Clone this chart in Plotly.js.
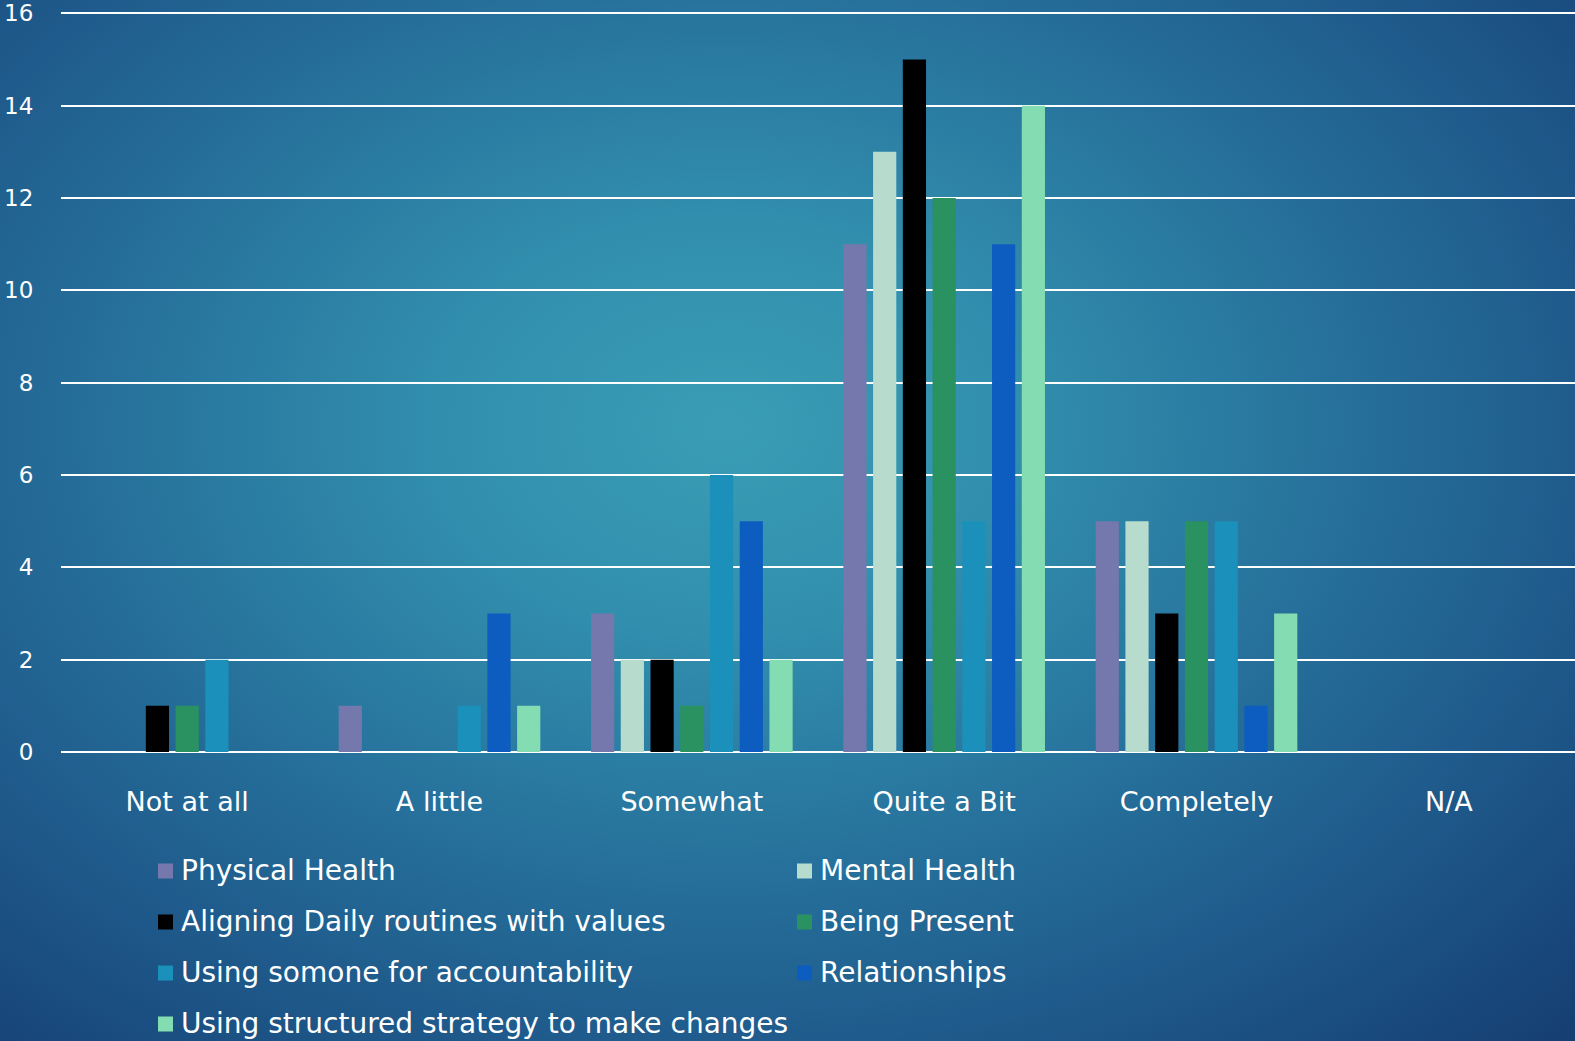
<!DOCTYPE html>
<html>
<head>
<meta charset="utf-8">
<script src="https://cdn.plot.ly/plotly-3.0.1.min.js"></script>
<style>
  html, body { margin: 0; padding: 0; width: 1575px; height: 1041px; overflow: hidden; }
  body {
    background: radial-gradient(ellipse 78% 85% at 46% 41%,
      #3a9db5 0%, #3290ae 22%, #27739d 48%, #1f5b8c 70%, #18467a 90%, #153d71 100%);
  }
  #chart { width: 1575px; height: 1041px; }
</style>
</head>
<body>
<div id="chart"></div>
<script>
// Survey response levels
const categories = ["Not at all", "A little", "Somewhat", "Quite a Bit", "Completely", "N/A"];

// Number of responses per level, one array per topic
const physicalHealth     = [0, 1, 3, 11, 5, 0];
const mentalHealth       = [0, 0, 2, 13, 5, 0];
const aligningRoutines   = [1, 0, 2, 15, 3, 0];
const beingPresent       = [1, 0, 1, 12, 5, 0];
const accountability     = [2, 1, 6, 5, 5, 0];
const relationships      = [0, 3, 5, 11, 1, 0];
const structuredStrategy = [0, 1, 2, 14, 3, 0];

const seriesNames = [
  "Physical Health",
  "Mental Health",
  "Aligning Daily routines with values",
  "Being Present",
  "Using somone for accountability",
  "Relationships",
  "Using structured strategy to make changes"
];
const seriesValues = [physicalHealth, mentalHealth, aligningRoutines, beingPresent,
                      accountability, relationships, structuredStrategy];
const seriesColors = ["#7478ac", "#b7dcce", "#000000", "#2a9260", "#1b90ba", "#0c5dbf", "#84ddb2"];

const FONT = "DejaVu Sans, Verdana, sans-serif";

const traces = seriesNames.map((name, i) => ({
  type: "bar",
  name: name,
  x: categories,
  y: seriesValues[i],
  marker: { color: seriesColors[i], line: { width: 0 } },
  hoverinfo: "x+y+name"
}));

// Page geometry (pixels)
const W = 1575, H = 1041;
const M = { l: 61, r: 0, t: 11, b: 289 };
const plotW = W - M.l - M.r;
const plotH = H - M.t - M.b;
const px2x = (px) => (px - M.l) / plotW;
const py2y = (py) => (H - M.b - py) / plotH;

// Two-column legend drawn below the axis
const legendCols = [158, 797];
const legendRow0 = 871, legendRowStep = 51, swatch = 15, textGap = 7;
const shapes = [];
const annotations = [];
seriesNames.forEach((name, i) => {
  const col = i % 2, row = Math.floor(i / 2);
  const x0 = legendCols[col];
  const cy = legendRow0 + row * legendRowStep;
  shapes.push({
    type: "rect", xref: "paper", yref: "paper",
    x0: px2x(x0), x1: px2x(x0 + swatch),
    y0: py2y(cy + swatch / 2), y1: py2y(cy - swatch / 2),
    fillcolor: seriesColors[i], line: { width: 0 }
  });
  annotations.push({
    xref: "paper", yref: "paper",
    x: px2x(x0 + swatch + textGap - 1), y: py2y(cy - 1),
    xanchor: "left", yanchor: "middle",
    text: name, showarrow: false,
    font: { family: FONT, size: 28, color: "#ffffff" }
  });
});

const layout = {
  width: W, height: H,
  margin: M,
  paper_bgcolor: "rgba(0,0,0,0)",
  plot_bgcolor: "rgba(0,0,0,0)",
  barmode: "group",
  bargap: 0.175,
  bargroupgap: 0.22,
  showlegend: false,
  font: { family: FONT, color: "#ffffff" },
  xaxis: {
    type: "category",
    showgrid: false,
    zeroline: false,
    showline: false,
    ticks: "outside", ticklen: 26, tickcolor: "rgba(0,0,0,0)",
    tickfont: { family: FONT, size: 27, color: "#ffffff" }
  },
  yaxis: {
    // a sliver of headroom so the top gridline at 16 is kept
    range: [0, 16.05],
    tickvals: [0, 2, 4, 6, 8, 10, 12, 14, 16],
    showgrid: true, gridcolor: "#ffffff", gridwidth: 2,
    zeroline: true, zerolinecolor: "#ffffff", zerolinewidth: 2,
    showline: false,
    ticks: "outside", ticklen: 22, tickcolor: "rgba(0,0,0,0)",
    ticklabeloverflow: "allow",
    tickfont: { family: FONT, size: 23, color: "#ffffff" }
  },
  shapes: shapes,
  annotations: annotations
};

Plotly.newPlot("chart", traces, layout, { displayModeBar: false, staticPlot: true });
</script>
</body>
</html>
